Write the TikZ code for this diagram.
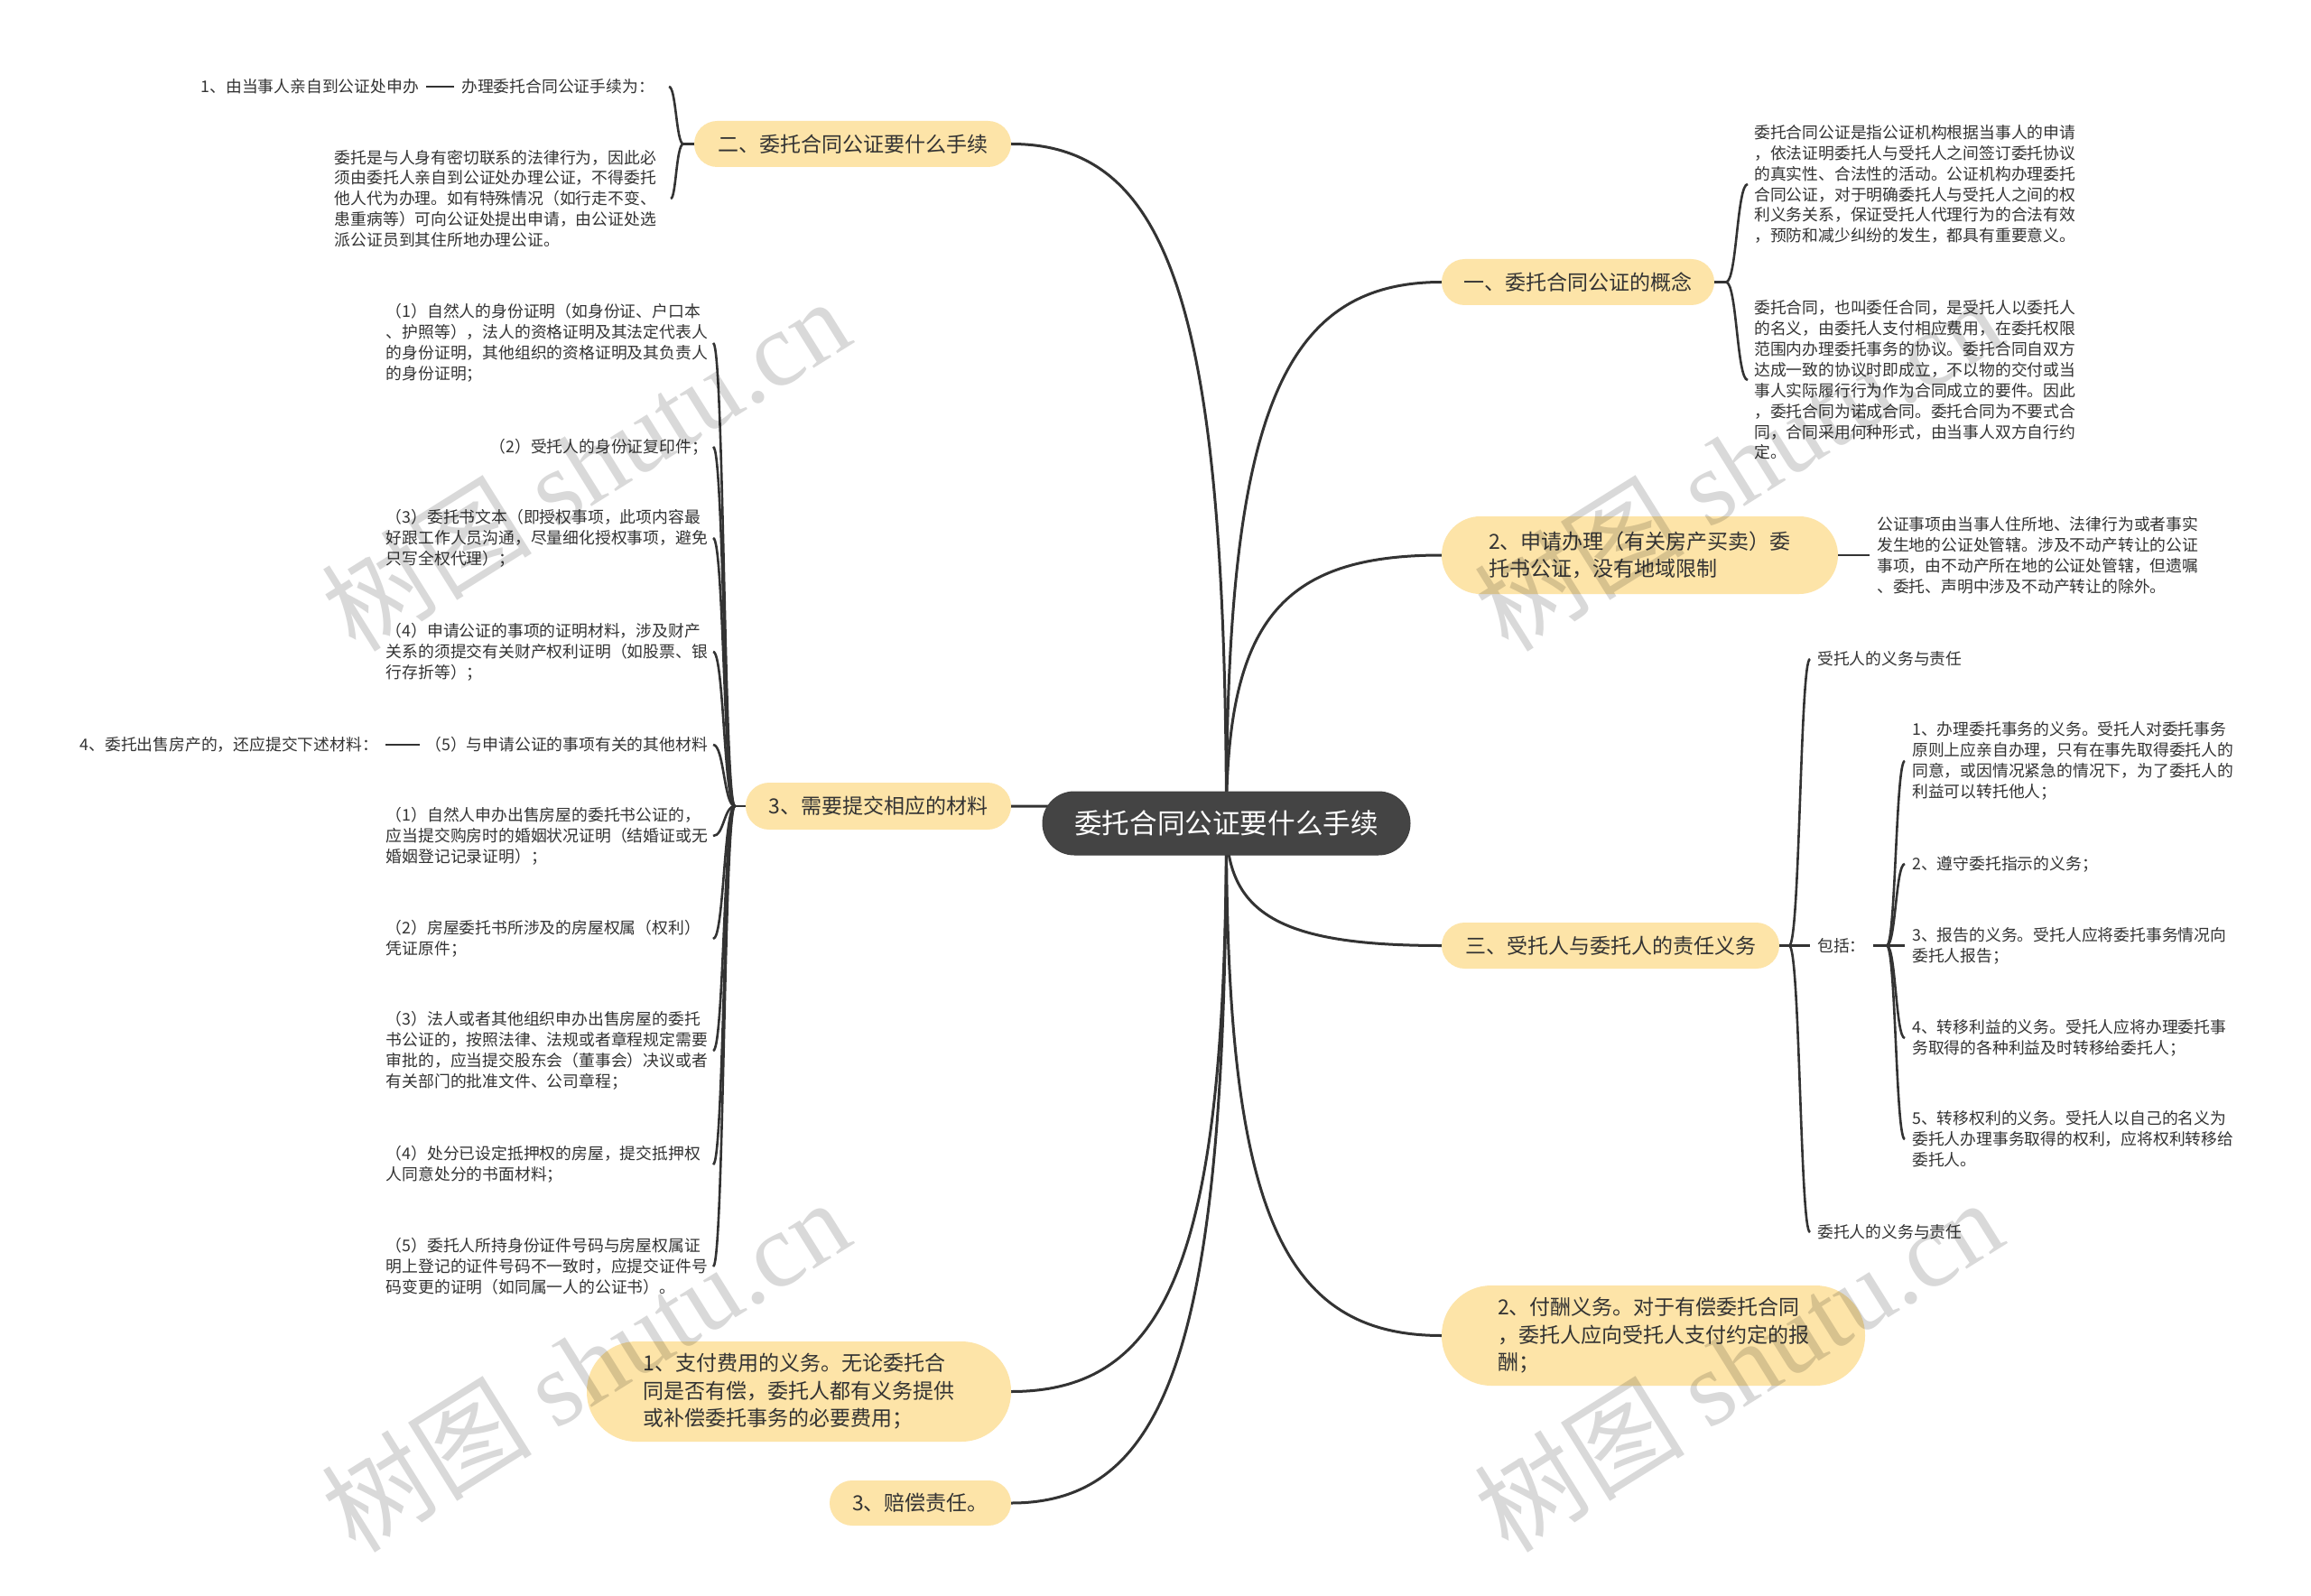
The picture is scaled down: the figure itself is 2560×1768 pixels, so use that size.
\documentclass[tikz,border=0pt]{standalone}
\usepackage{fontspec}
\setmainfont{Noto Sans CJK SC}
\newfontfamily\wmlatin{Liberation Serif}
\usetikzlibrary{calc}
\definecolor{pillfill}{HTML}{FDE4A8}
\definecolor{rootfill}{HTML}{444444}
\definecolor{txt}{HTML}{333333}
\definecolor{ln}{HTML}{333333}
\pgfdeclarelayer{bg}
\pgfdeclarelayer{wmlayer}
\pgfsetlayers{bg,main,wmlayer}
\begin{document}
\begin{tikzpicture}[x=1pt,y=-1pt,
  pill/.style={fill=pillfill, draw=none, text=txt, font=\fontsize{23}{30.5}\selectfont, inner sep=0pt, align=left},
  small/.style={text=txt, font=\fontsize{17.8}{22.9}\selectfont, inner sep=0pt, align=left},
  para/.style={small, text width=356pt},
  mainline/.style={draw=ln, line width=3pt},
  subline/.style={draw=ln, line width=2.6pt},
  wm/.style={text=black, text opacity=0.15, rotate=32, font=\fontsize{117}{117}\selectfont, inner sep=0pt},
]
\begin{pgfonlayer}{bg}
\fill[white] (0,0) rectangle (2560,1768);
\end{pgfonlayer}
\useasboundingbox (0,0) rectangle (2560,1768);

% root
\node[fill=rootfill, draw=black!75, line width=1pt, text=white, font=\fontsize{30.6}{36}\selectfont,
  minimum width=407pt, minimum height=70pt, rounded corners=35pt, inner sep=0pt] (root) at (1358.5,912) {委托合同公证要什么手续};

% main branches
\node[pill, minimum width=351pt, minimum height=51pt, rounded corners=25.5pt] (b1) at (944.5,159.5) {二、委托合同公证要什么手续};
\node[pill, minimum width=294pt, minimum height=52pt, rounded corners=26pt] (b3) at (973,893) {3、需要提交相应的材料};
\node[pill, minimum width=470pt, minimum height=111pt, rounded corners=55pt] (bl1) at (885,1541.5) {1、支付费用的义务。无论委托合\\同是否有偿，委托人都有义务提供\\或补偿委托事务的必要费用；};
\node[pill, minimum width=201pt, minimum height=50pt, rounded corners=25pt] (bl2) at (1019.5,1665) {3、赔偿责任。};
\node[pill, minimum width=302pt, minimum height=51pt, rounded corners=25.5pt] (r1) at (1748,312.5) {一、委托合同公证的概念};
\node[pill, minimum width=439pt, minimum height=86pt, rounded corners=43pt] (r2) at (1816.5,615) {2、申请办理（有关房产买卖）委\\托书公证，没有地域限制};
\node[pill, minimum width=374pt, minimum height=51pt, rounded corners=25.5pt] (r3) at (1784,1047.5) {三、受托人与委托人的责任义务};
\node[pill, minimum width=469pt, minimum height=111pt, rounded corners=55pt] (r4) at (1831.5,1479.5) {2、付酬义务。对于有偿委托合同\\，委托人应向受托人支付约定的报\\酬；};

% top-left children
\node[small, anchor=east] (a1) at (725,96) {办理委托合同公证手续为：};
\node[small, anchor=east] (a0) at (464,96) {1、由当事人亲自到公证处申办};
\node[para, anchor=east] (a2) at (727,220) {委托是与人身有密切联系的法律行为，因此必\\须由委托人亲自到公证处办理公证，不得委托\\他人代为办理。如有特殊情况（如行走不变、\\患重病等）可向公证处提出申请，由公证处选\\派公证员到其住所地办理公证。};

% left column children
\node[para, anchor=east] (c1) at (784,380) {（1）自然人的身份证明（如身份证、户口本\\、护照等），法人的资格证明及其法定代表人\\的身份证明，其他组织的资格证明及其负责人\\的身份证明；};
\node[small, anchor=east] (c2) at (784,495) {（2）受托人的身份证复印件；};
\node[para, anchor=east] (c3) at (784,596) {（3）委托书文本（即授权事项，此项内容最\\好跟工作人员沟通，尽量细化授权事项，避免\\只写全权代理）；};
\node[para, anchor=east] (c4) at (784,722) {（4）申请公证的事项的证明材料，涉及财产\\关系的须提交有关财产权利证明（如股票、银\\行存折等）；};
\node[small, anchor=east] (c5) at (784,825) {（5）与申请公证的事项有关的其他材料};
\node[small, anchor=east] (d4) at (419,825) {4、委托出售房产的，还应提交下述材料：};
\node[para, anchor=east] (c6) at (784,926) {（1）自然人申办出售房屋的委托书公证的，\\应当提交购房时的婚姻状况证明（结婚证或无\\婚姻登记记录证明）；};
\node[para, anchor=east] (c7) at (784,1040) {（2）房屋委托书所涉及的房屋权属（权利）\\凭证原件；};
\node[para, anchor=east] (c8) at (784,1164) {（3）法人或者其他组织申办出售房屋的委托\\书公证的，按照法律、法规或者章程规定需要\\审批的，应当提交股东会（董事会）决议或者\\有关部门的批准文件、公司章程；};
\node[para, anchor=east] (c9) at (784,1290) {（4）处分已设定抵押权的房屋，提交抵押权\\人同意处分的书面材料；};
\node[para, anchor=east] (c10) at (784,1403) {（5）委托人所持身份证件号码与房屋权属证\\明上登记的证件号码不一致时，应提交证件号\\码变更的证明（如同属一人的公证书）。};

% right children of r1
\node[para, anchor=west] (p1) at (1943,204) {委托合同公证是指公证机构根据当事人的申请\\，依法证明委托人与受托人之间签订委托协议\\的真实性、合法性的活动。公证机构办理委托\\合同公证，对于明确委托人与受托人之间的权\\利义务关系，保证受托人代理行为的合法有效\\，预防和减少纠纷的发生，都具有重要意义。};
\node[para, anchor=west] (p2) at (1943,421) {委托合同，也叫委任合同，是受托人以委托人\\的名义，由委托人支付相应费用，在委托权限\\范围内办理委托事务的协议。委托合同自双方\\达成一致的协议时即成立，不以物的交付或当\\事人实际履行行为作为合同成立的要件。因此\\，委托合同为诺成合同。委托合同为不要式合\\同，合同采用何种形式，由当事人双方自行约\\定。};

% child of r2
\node[para, anchor=west] (q1) at (2079,615) {公证事项由当事人住所地、法律行为或者事实\\发生地的公证处管辖。涉及不动产转让的公证\\事项，由不动产所在地的公证处管辖，但遗嘱\\、委托、声明中涉及不动产转让的除外。};

% children of r3
\node[small, anchor=west] (s1) at (2013,730) {受托人的义务与责任};
\node[small, anchor=west] (inc) at (2013,1047.5) {包括：};
\node[small, anchor=west] (s3) at (2013,1365) {委托人的义务与责任};

\node[para, anchor=west] (t1) at (2118,843) {1、办理委托事务的义务。受托人对委托事务\\原则上应亲自办理，只有在事先取得委托人的\\同意，或因情况紧急的情况下，为了委托人的\\利益可以转托他人；};
\node[small, anchor=west] (t2) at (2118,957) {2、遵守委托指示的义务；};
\node[para, anchor=west] (t3) at (2118,1047.5) {3、报告的义务。受托人应将委托事务情况向\\委托人报告；};
\node[para, anchor=west] (t4) at (2118,1150) {4、转移利益的义务。受托人应将办理委托事\\务取得的各种利益及时转移给委托人；};
\node[para, anchor=west] (t5) at (2118,1262) {5、转移权利的义务。受托人以自己的名义为\\委托人办理事务取得的权利，应将权利转移给\\委托人。};

% junction coordinates
\coordinate (j1) at (757,159.5);  \coordinate (v1) at (749,159.5);
\coordinate (j3) at (814,893);    \coordinate (v3) at (802,893);
\coordinate (jr1) at (1912,312.5); \coordinate (vr1) at (1924,312.5);
\coordinate (jr3) at (1982,1047.5); \coordinate (vr3) at (1994,1047.5);
\coordinate (ji) at (2090,1047.5); \coordinate (vi) at (2100,1047.5);

\begin{pgfonlayer}{bg}
% root connectors
\draw[mainline] (root.center) .. controls (1358,348) and (1298.5,159.5) .. (b1.east);
\draw[mainline] (root.center) .. controls (1358,898) and (1298.5,893) .. (b3.east);
\draw[mainline] (root.center) .. controls (1358,1384) and (1298.5,1541.5) .. (bl1.east);
\draw[mainline] (root.center) .. controls (1358,1477) and (1298.5,1665) .. (bl2.east);
\draw[mainline] (root.center) .. controls (1358,463) and (1418,312.5) .. (r1.west);
\draw[mainline] (root.center) .. controls (1358,689) and (1418,615) .. (r2.west);
\draw[mainline] (root.center) .. controls (1358,1013) and (1418,1047.5) .. (r3.west);
\draw[mainline] (root.center) .. controls (1358,1338) and (1418,1479.5) .. (r4.west);
\end{pgfonlayer}

% b1 bracket
\draw[subline] (b1.west) -- (j1);
\foreach \n in {a1,a2}
  \draw[subline] (j1) .. controls (v1) and (v1 |- \n.east) .. ([xshift=16pt]\n.east);
\draw[subline] ([xshift=-8pt]a1.west) -- ([xshift=8pt]a0.east);

% b3 bracket
\draw[subline] (b3.west) -- (j3);
\foreach \n in {c1,c2,c3,c4,c5,c6,c7,c8,c9,c10}
  \draw[subline] (j3) .. controls (v3) and (v3 |- \n.east) .. ([xshift=6pt]\n.east);
\draw[subline] ([xshift=-6pt]c5.west) -- ([xshift=8pt]d4.east);

% r1 bracket
\draw[subline] (r1.east) -- (jr1);
\foreach \n in {p1,p2}
  \draw[subline] (jr1) .. controls (vr1) and (vr1 |- \n.west) .. ([xshift=-7pt]\n.west);

% r2 line
\draw[subline] (r2.east) -- ([xshift=-8pt]q1.west);

% r3 bracket
\draw[subline] (r3.east) -- (jr3);
\foreach \n in {s1,inc,s3}
  \draw[subline] (jr3) .. controls (vr3) and (vr3 |- \n.west) .. ([xshift=-8pt]\n.west);

% inc bracket
\draw[subline] ([xshift=8pt]inc.east) -- (ji);
\foreach \n in {t1,t2,t3,t4,t5}
  \draw[subline] (ji) .. controls (vi) and (vi |- \n.west) .. ([xshift=-8pt]\n.west);

% watermarks
\begin{pgfonlayer}{wmlayer}
\node[wm] (wm1) at (648,514) {树图 {\wmlatin shutu.cn}};
\node[wm] (wm2) at (648,1512) {树图 {\wmlatin shutu.cn}};
\node[wm] (wm3) at (1925,514) {树图 {\wmlatin shutu.cn}};
\node[wm] (wm4) at (1925,1512) {树图 {\wmlatin shutu.cn}};
\end{pgfonlayer}
\end{tikzpicture}
\end{document}
